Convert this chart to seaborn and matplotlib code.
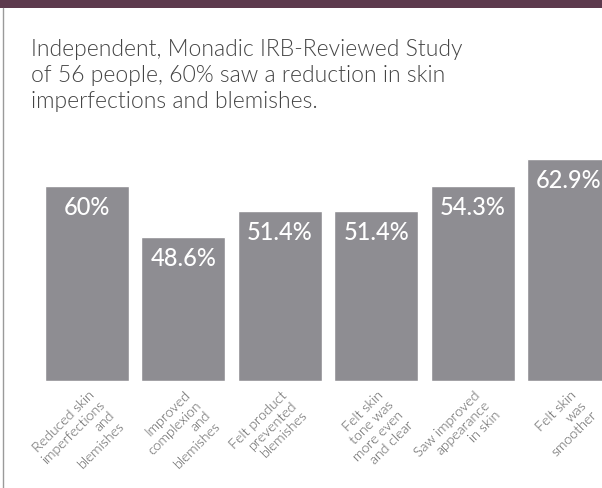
import matplotlib
matplotlib.use("Agg")
import matplotlib.pyplot as plt
import matplotlib.transforms as mtransforms
import seaborn as sns
import pandas as pd

# Data
categories = [
    "Reduced skin\nimperfections\nand\nblemishes",
    "Improved\ncomplexion\nand\nblemishes",
    "Felt product\nprevented\nblemishes",
    "Felt skin\ntone was\nmore even\nand clear",
    "Saw improved\nappearance\nin skin",
    "Felt skin\nwas\nsmoother",
]
value_labels = ["60%", "48.6%", "51.4%", "51.4%", "54.3%", "62.9%"]
# bar heights as drawn in the picture (not proportional to the labels)
bar_heights = [60, 44.3, 52.3, 52.3, 60, 68.3]

title = ("Independent, Monadic IRB-Reviewed Study\n"
         "of 56 people, 60% saw a reduction in skin\n"
         "imperfections and blemishes.")

sns.set_theme(style="white")
plt.rcParams["font.family"] = ["Lato", "DejaVu Sans"]

df = pd.DataFrame({"cat": categories, "height": bar_heights})

W, H = 602, 489
fig = plt.figure(figsize=(W / 100, H / 100), dpi=100)
fig.patch.set_facecolor("white")

# top band and left border
fig.add_artist(plt.Rectangle((0, 1 - 9 / H), 1, 9 / H, transform=fig.transFigure,
                             color="#5d3a4d", lw=0))
fig.add_artist(plt.Line2D([2.5 / W, 2.5 / W], [0, 1 - 9 / H], transform=fig.transFigure,
                          color="#9a9a9a", lw=1))

fig.text(31 / W, 1 - 39 / H, title, ha="left", va="top", fontsize=16.5,
         fontweight=300, color="#444444", linespacing=1.3)

# axes: bottom of bars at y=382 px, bar step ~96.4 px, first center at 87 px
step = 96.4
x0 = 87
ax = fig.add_axes([0, (H - 382) / H, 1, 325 / H])
sns.barplot(data=df, x="cat", y="height", color="#8e8d92", saturation=1,
            width=84 / step, ax=ax)
ax.set_xlim(-x0 / step, (W - x0) / step)
ax.set_ylim(0, 100)
ax.set_axis_off()

for i, (h, lab) in enumerate(zip(bar_heights, value_labels)):
    ax.annotate(lab, (i, h), xytext=(0, -9), textcoords="offset pixels",
                ha="center", va="top", fontsize=17, fontweight=500, color="white")

for i, cat in enumerate(categories):
    tr = mtransforms.offset_copy(ax.transData, fig=fig, x=1, y=-7, units="dots")
    ax.text(i, 0, cat, transform=tr, rotation=45, rotation_mode="anchor",
            ha="right", va="top", multialignment="right", fontsize=10.2,
            fontweight=300, color="#555555", linespacing=1.22)

fig.savefig("out.png", dpi=100)
